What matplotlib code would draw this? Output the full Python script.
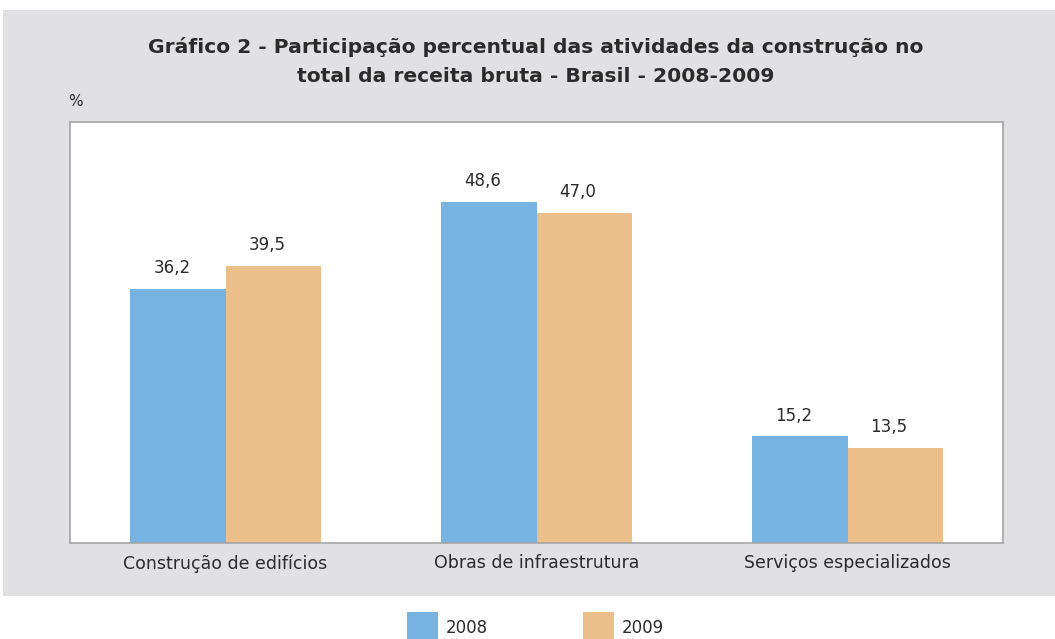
import matplotlib
matplotlib.use("Agg")
import matplotlib.pyplot as plt
from matplotlib.patches import Rectangle
import numpy as np

categories = ["Construção de edifícios", "Obras de infraestrutura", "Serviços especializados"]
series_names = ["2008", "2009"]
values_2008 = [36.2, 48.6, 15.2]
values_2009 = [39.5, 47.0, 13.5]

blue = "#77B3E0"
orange = "#EBBE8A"
panel = "#E1E1E3"
textc = "#2b2b2b"

W, H = 1055, 639
fig = plt.figure(figsize=(W/100, H/100), dpi=100)
fig.patch.set_facecolor("white")

# gray panel as a background axes
bg = fig.add_axes([3/W, 1-596/H, 1-3/W, (596-10)/H], zorder=0)
bg.set_facecolor(panel)
bg.set_xticks([]); bg.set_yticks([])
for s in bg.spines.values():
    s.set_visible(False)

ax = fig.add_axes([70/W, 1-543/H, (1003-70)/W, (543-122)/H], zorder=1)
ax.set_facecolor("white")
for s in ax.spines.values():
    s.set_color("#A3A5A8")
    s.set_linewidth(1.2)

x = np.arange(len(categories))
w = 0.306
b1 = ax.bar(x - w/2, values_2008, w, color=blue, label=series_names[0], zorder=2)
b2 = ax.bar(x + w/2, values_2009, w, color=orange, label=series_names[1], zorder=2)
ax.set_xlim(-0.5, 2.5)
ax.set_ylim(0, 60)
ax.set_yticks([])
ax.set_xticks(x)
ax.set_xticklabels(categories, fontsize=12.5, color=textc)
ax.tick_params(axis="x", length=0, pad=8)

for bars, vals in ((b1, values_2008), (b2, values_2009)):
    for r, v in zip(bars, vals):
        ax.annotate(f"{v:.1f}".replace(".", ","), (r.get_x() + r.get_width()/2, v),
                    xytext=(-4.3, 15), textcoords="offset points",
                    ha="center", va="center", fontsize=12, color=textc)

fig.text(0.508, 1-47/H, "Gráfico 2 - Participação percentual das atividades da construção no",
         ha="center", va="center", fontsize=14.6, fontweight="bold", color=textc, zorder=3)
fig.text(0.508, 1-77/H, "total da receita bruta - Brasil - 2008-2009",
         ha="center", va="center", fontsize=14.6, fontweight="bold", color=textc, zorder=3)
fig.text(68/W, 1-102/H, "%", ha="left", va="center", fontsize=11, color=textc, zorder=3)

# legend
for (x0, name, col) in ((407, series_names[0], blue), (583, series_names[1], orange)):
    fig.patches.append(Rectangle((x0/W, 0), 31/W, (639-612)/H, transform=fig.transFigure,
                                 facecolor=col, edgecolor="none"))
    fig.text((x0+39)/W, 1-628/H, name, ha="left", va="center", fontsize=12, color=textc)

fig.savefig("out.png", dpi=100)
